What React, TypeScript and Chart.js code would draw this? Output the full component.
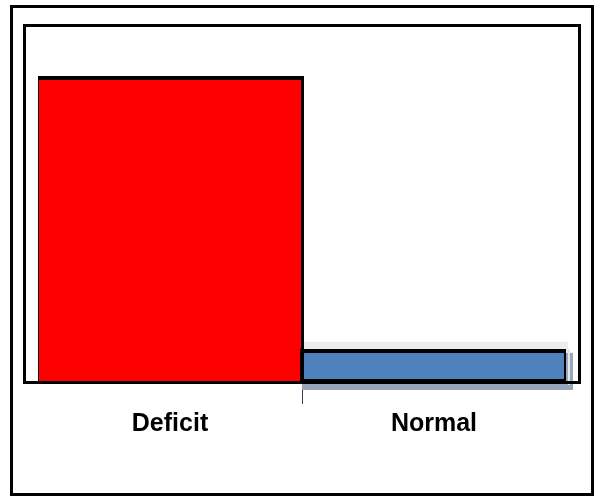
import React, { useEffect, useRef } from 'react';
import { Chart, registerables } from 'chart.js';

Chart.register(...registerables);

const categories: string[] = ['Deficit', 'Normal'];
const values: number[] = [90, 10];
const barColors: string[] = ['#ff0000', '#4f81bd'];
const yMin = 0;
const yMax = 100;

const shadowPlugin = {
  id: 'barShadow',
  beforeDatasetsDraw(chart: any) {
    const meta = chart.getDatasetMeta(0);
    const el = meta.data[1];
    if (!el) return;
    const { x, y, base, width } = el.getProps(['x', 'y', 'base', 'width'], true);
    const ctx = chart.ctx;
    ctx.save();
    ctx.fillStyle = '#ececec';
    ctx.fillRect(x - width / 2 - 4, y - 7, width + 4, base - y + 7);
    ctx.fillStyle = '#98a6bb';
    ctx.fillRect(x - width / 2 + 2, y + 4, width + 3, base - y + 3);
    ctx.fillStyle = '#e4e8ee';
    ctx.fillRect(x + width / 2, y, 2, base - y + 2);
    ctx.restore();
  },
};

const framePlugin = {
  id: 'frames',
  afterDatasetsDraw(chart: any) {
    const ctx = chart.ctx;
    const a = chart.chartArea;
    ctx.save();
    ctx.strokeStyle = '#000000';
    ctx.lineWidth = 3;
    ctx.strokeRect(a.left - 13.5, a.top - 16.5, a.right - a.left + 27, a.bottom - a.top + 16);
    ctx.strokeRect(11.5, 6.5, chart.width - 20, chart.height - 10);
    ctx.restore();
  },
};

export default function App() {
  const ref = useRef<HTMLCanvasElement | null>(null);

  useEffect(() => {
    if (!ref.current) return;
    const chart = new Chart(ref.current, {
      type: 'bar',
      data: {
        labels: categories,
        datasets: [
          {
            data: values,
            backgroundColor: barColors,
            borderColor: '#000000',
            borderWidth: (c: any) =>
              c.dataIndex === 0 ? { top: 4, left: 3, right: 3, bottom: 0 } : 4,
            borderSkipped: (c: any) => (c.dataIndex === 0 ? 'start' : false),
            categoryPercentage: 1,
            barPercentage: 1.015,
          },
        ],
      },
      options: {
        responsive: false,
        animation: false,
        layout: { padding: { left: 38, right: 35, top: 42, bottom: 0 } },
        plugins: {
          legend: { display: false },
          tooltip: { enabled: false },
        },
        scales: {
          y: { display: false, min: yMin, max: yMax },
          x: {
            border: { display: false },
            grid: {
              display: true,
              offset: true,
              drawOnChartArea: false,
              drawTicks: true,
              tickLength: 21,
              lineWidth: 1,
              color: (c: any) => (c.index === 1 ? '#404040' : 'rgba(0,0,0,0)'),
            },
            ticks: {
              padding: 5,
              color: '#000000',
              font: { family: '"Liberation Sans", Arial, sans-serif', size: 25, weight: 'bold' },
              maxRotation: 0,
            },
            afterFit: (scale: any) => {
              scale.height = 115;
            },
          },
        },
      },
      plugins: [shadowPlugin, framePlugin],
    });
    return () => chart.destroy();
  }, []);

  return (
    <div style={{ position: 'absolute', left: 0, top: 0, width: 601, height: 498, background: '#ffffff' }}>
      <canvas ref={ref} width={601} height={498} />
    </div>
  );
}
